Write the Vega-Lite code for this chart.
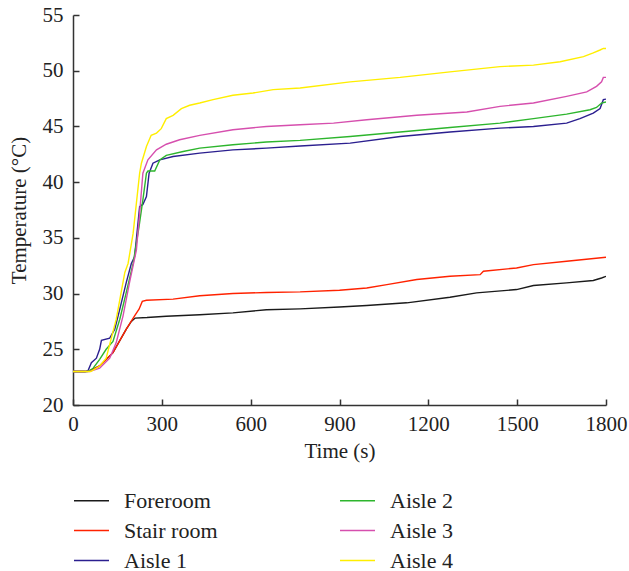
{
  "$schema": "https://vega.github.io/schema/vega-lite/v6.json",
  "width": 533,
  "height": 390,
  "autosize": {"type": "none"},
  "padding": {"left": 73, "top": 15, "right": 23, "bottom": 166},
  "background": "white",
  "config": {
    "view": {"stroke": null},
    "font": "Liberation Serif, DejaVu Serif, serif"
  },
  "data": {
    "values": [
      {"t":0,"T":23.0,"s":"Foreroom"},{"t":40,"T":23.0,"s":"Foreroom"},{"t":60,"T":23.1,"s":"Foreroom"},{"t":90,"T":23.5,"s":"Foreroom"},{"t":135,"T":24.7,"s":"Foreroom"},{"t":180,"T":26.8,"s":"Foreroom"},{"t":197,"T":27.5,"s":"Foreroom"},{"t":210,"T":27.8,"s":"Foreroom"},{"t":250,"T":27.85,"s":"Foreroom"},{"t":315,"T":27.97,"s":"Foreroom"},{"t":428,"T":28.1,"s":"Foreroom"},{"t":540,"T":28.27,"s":"Foreroom"},{"t":653,"T":28.55,"s":"Foreroom"},{"t":767,"T":28.63,"s":"Foreroom"},{"t":900,"T":28.8,"s":"Foreroom"},{"t":992,"T":28.93,"s":"Foreroom"},{"t":1127,"T":29.17,"s":"Foreroom"},{"t":1273,"T":29.67,"s":"Foreroom"},{"t":1363,"T":30.06,"s":"Foreroom"},{"t":1498,"T":30.36,"s":"Foreroom"},{"t":1555,"T":30.72,"s":"Foreroom"},{"t":1667,"T":30.96,"s":"Foreroom"},{"t":1757,"T":31.17,"s":"Foreroom"},{"t":1785,"T":31.4,"s":"Foreroom"},{"t":1800,"T":31.55,"s":"Foreroom"},

      {"t":0,"T":23.0,"s":"Stair room"},{"t":40,"T":23.0,"s":"Stair room"},{"t":60,"T":23.1,"s":"Stair room"},{"t":90,"T":23.5,"s":"Stair room"},{"t":135,"T":24.7,"s":"Stair room"},{"t":180,"T":26.8,"s":"Stair room"},{"t":208,"T":28.0,"s":"Stair room"},{"t":223,"T":28.6,"s":"Stair room"},{"t":234,"T":29.3,"s":"Stair room"},{"t":248,"T":29.4,"s":"Stair room"},{"t":338,"T":29.5,"s":"Stair room"},{"t":428,"T":29.8,"s":"Stair room"},{"t":540,"T":30.0,"s":"Stair room"},{"t":653,"T":30.1,"s":"Stair room"},{"t":767,"T":30.15,"s":"Stair room"},{"t":900,"T":30.3,"s":"Stair room"},{"t":992,"T":30.5,"s":"Stair room"},{"t":1060,"T":30.8,"s":"Stair room"},{"t":1161,"T":31.26,"s":"Stair room"},{"t":1273,"T":31.56,"s":"Stair room"},{"t":1375,"T":31.7,"s":"Stair room"},{"t":1386,"T":32.0,"s":"Stair room"},{"t":1498,"T":32.3,"s":"Stair room"},{"t":1555,"T":32.6,"s":"Stair room"},{"t":1667,"T":32.9,"s":"Stair room"},{"t":1800,"T":33.26,"s":"Stair room"},

      {"t":0,"T":23.0,"s":"Aisle 1"},{"t":45,"T":23.0,"s":"Aisle 1"},{"t":51,"T":23.1,"s":"Aisle 1"},{"t":62,"T":23.8,"s":"Aisle 1"},{"t":79,"T":24.2,"s":"Aisle 1"},{"t":90,"T":25.0,"s":"Aisle 1"},{"t":96,"T":25.8,"s":"Aisle 1"},{"t":124,"T":26.0,"s":"Aisle 1"},{"t":141,"T":26.8,"s":"Aisle 1"},{"t":158,"T":28.6,"s":"Aisle 1"},{"t":180,"T":31.0,"s":"Aisle 1"},{"t":197,"T":32.7,"s":"Aisle 1"},{"t":208,"T":33.3,"s":"Aisle 1"},{"t":225,"T":37.8,"s":"Aisle 1"},{"t":236,"T":38.0,"s":"Aisle 1"},{"t":248,"T":38.7,"s":"Aisle 1"},{"t":257,"T":40.8,"s":"Aisle 1"},{"t":270,"T":41.7,"s":"Aisle 1"},{"t":293,"T":42.0,"s":"Aisle 1"},{"t":338,"T":42.3,"s":"Aisle 1"},{"t":428,"T":42.6,"s":"Aisle 1"},{"t":540,"T":42.9,"s":"Aisle 1"},{"t":653,"T":43.05,"s":"Aisle 1"},{"t":767,"T":43.25,"s":"Aisle 1"},{"t":936,"T":43.5,"s":"Aisle 1"},{"t":1105,"T":44.1,"s":"Aisle 1"},{"t":1273,"T":44.5,"s":"Aisle 1"},{"t":1442,"T":44.85,"s":"Aisle 1"},{"t":1555,"T":45.0,"s":"Aisle 1"},{"t":1667,"T":45.3,"s":"Aisle 1"},{"t":1712,"T":45.7,"s":"Aisle 1"},{"t":1757,"T":46.2,"s":"Aisle 1"},{"t":1780,"T":46.6,"s":"Aisle 1"},{"t":1791,"T":47.4,"s":"Aisle 1"},{"t":1800,"T":47.45,"s":"Aisle 1"},

      {"t":0,"T":23.0,"s":"Aisle 2"},{"t":50,"T":23.0,"s":"Aisle 2"},{"t":68,"T":23.3,"s":"Aisle 2"},{"t":90,"T":24.1,"s":"Aisle 2"},{"t":112,"T":25.0,"s":"Aisle 2"},{"t":135,"T":25.7,"s":"Aisle 2"},{"t":158,"T":27.7,"s":"Aisle 2"},{"t":180,"T":30.1,"s":"Aisle 2"},{"t":203,"T":32.7,"s":"Aisle 2"},{"t":223,"T":36.0,"s":"Aisle 2"},{"t":236,"T":38.4,"s":"Aisle 2"},{"t":248,"T":40.8,"s":"Aisle 2"},{"t":253,"T":41.0,"s":"Aisle 2"},{"t":276,"T":41.0,"s":"Aisle 2"},{"t":293,"T":42.0,"s":"Aisle 2"},{"t":315,"T":42.4,"s":"Aisle 2"},{"t":372,"T":42.75,"s":"Aisle 2"},{"t":428,"T":43.05,"s":"Aisle 2"},{"t":540,"T":43.35,"s":"Aisle 2"},{"t":653,"T":43.6,"s":"Aisle 2"},{"t":767,"T":43.75,"s":"Aisle 2"},{"t":936,"T":44.1,"s":"Aisle 2"},{"t":1105,"T":44.5,"s":"Aisle 2"},{"t":1273,"T":44.9,"s":"Aisle 2"},{"t":1442,"T":45.3,"s":"Aisle 2"},{"t":1555,"T":45.7,"s":"Aisle 2"},{"t":1667,"T":46.1,"s":"Aisle 2"},{"t":1746,"T":46.5,"s":"Aisle 2"},{"t":1768,"T":46.7,"s":"Aisle 2"},{"t":1785,"T":47.1,"s":"Aisle 2"},{"t":1800,"T":47.2,"s":"Aisle 2"},

      {"t":0,"T":23.0,"s":"Aisle 3"},{"t":55,"T":23.0,"s":"Aisle 3"},{"t":90,"T":23.3,"s":"Aisle 3"},{"t":124,"T":24.2,"s":"Aisle 3"},{"t":146,"T":25.6,"s":"Aisle 3"},{"t":169,"T":28.0,"s":"Aisle 3"},{"t":191,"T":31.0,"s":"Aisle 3"},{"t":214,"T":33.9,"s":"Aisle 3"},{"t":225,"T":37.2,"s":"Aisle 3"},{"t":236,"T":40.8,"s":"Aisle 3"},{"t":253,"T":42.0,"s":"Aisle 3"},{"t":282,"T":42.9,"s":"Aisle 3"},{"t":315,"T":43.4,"s":"Aisle 3"},{"t":360,"T":43.8,"s":"Aisle 3"},{"t":428,"T":44.2,"s":"Aisle 3"},{"t":540,"T":44.7,"s":"Aisle 3"},{"t":653,"T":45.0,"s":"Aisle 3"},{"t":767,"T":45.15,"s":"Aisle 3"},{"t":880,"T":45.3,"s":"Aisle 3"},{"t":992,"T":45.6,"s":"Aisle 3"},{"t":1161,"T":46.0,"s":"Aisle 3"},{"t":1330,"T":46.3,"s":"Aisle 3"},{"t":1442,"T":46.8,"s":"Aisle 3"},{"t":1555,"T":47.1,"s":"Aisle 3"},{"t":1667,"T":47.7,"s":"Aisle 3"},{"t":1735,"T":48.1,"s":"Aisle 3"},{"t":1768,"T":48.6,"s":"Aisle 3"},{"t":1785,"T":49.0,"s":"Aisle 3"},{"t":1791,"T":49.4,"s":"Aisle 3"},{"t":1800,"T":49.4,"s":"Aisle 3"},

      {"t":0,"T":23.0,"s":"Aisle 4"},{"t":60,"T":23.0,"s":"Aisle 4"},{"t":90,"T":23.5,"s":"Aisle 4"},{"t":112,"T":24.2,"s":"Aisle 4"},{"t":146,"T":27.7,"s":"Aisle 4"},{"t":175,"T":31.9,"s":"Aisle 4"},{"t":186,"T":32.7,"s":"Aisle 4"},{"t":203,"T":35.4,"s":"Aisle 4"},{"t":214,"T":38.1,"s":"Aisle 4"},{"t":225,"T":40.8,"s":"Aisle 4"},{"t":231,"T":41.7,"s":"Aisle 4"},{"t":248,"T":43.2,"s":"Aisle 4"},{"t":264,"T":44.2,"s":"Aisle 4"},{"t":282,"T":44.4,"s":"Aisle 4"},{"t":298,"T":44.8,"s":"Aisle 4"},{"t":315,"T":45.7,"s":"Aisle 4"},{"t":338,"T":46.0,"s":"Aisle 4"},{"t":366,"T":46.6,"s":"Aisle 4"},{"t":394,"T":46.9,"s":"Aisle 4"},{"t":428,"T":47.1,"s":"Aisle 4"},{"t":473,"T":47.4,"s":"Aisle 4"},{"t":540,"T":47.8,"s":"Aisle 4"},{"t":608,"T":48.0,"s":"Aisle 4"},{"t":676,"T":48.3,"s":"Aisle 4"},{"t":767,"T":48.45,"s":"Aisle 4"},{"t":936,"T":49.0,"s":"Aisle 4"},{"t":1105,"T":49.4,"s":"Aisle 4"},{"t":1273,"T":49.9,"s":"Aisle 4"},{"t":1442,"T":50.37,"s":"Aisle 4"},{"t":1555,"T":50.5,"s":"Aisle 4"},{"t":1645,"T":50.8,"s":"Aisle 4"},{"t":1724,"T":51.26,"s":"Aisle 4"},{"t":1757,"T":51.6,"s":"Aisle 4"},{"t":1780,"T":51.86,"s":"Aisle 4"},{"t":1791,"T":52.0,"s":"Aisle 4"},{"t":1800,"T":52.0,"s":"Aisle 4"}
    ]
  },
  "mark": {"type": "line", "strokeWidth": 1.4, "clip": true},
  "encoding": {
    "x": {
      "field": "t", "type": "quantitative",
      "scale": {"domain": [0, 1800], "nice": false, "zero": false},
      "axis": {
        "title": "Time (s)", "values": [0, 300, 600, 900, 1200, 1500, 1800], "format": "d",
        "grid": false, "domainColor": "#333", "domainWidth": 1.5,
        "tickColor": "#333", "tickWidth": 1.5, "tickSize": -6,
        "labelFont": "Liberation Serif", "labelFontSize": 21, "labelColor": "#222",
        "labelPadding": 14, "labelFlush": false,
        "titleFont": "Liberation Serif", "titleFontSize": 21, "titleFontWeight": "normal", "titleColor": "#222",
        "titlePadding": 6
      }
    },
    "y": {
      "field": "T", "type": "quantitative",
      "scale": {"domain": [20, 55], "nice": false, "zero": false},
      "axis": {
        "title": "Temperature (°C)", "values": [20, 25, 30, 35, 40, 45, 50, 55], "format": "d",
        "grid": false, "domainColor": "#333", "domainWidth": 1.5,
        "tickColor": "#333", "tickWidth": 1.5, "tickSize": -6,
        "labelFont": "Liberation Serif", "labelFontSize": 21, "labelColor": "#222",
        "labelPadding": 16, "labelFlush": false,
        "titleFont": "Liberation Serif", "titleFontSize": 21, "titleFontWeight": "normal", "titleColor": "#222",
        "titlePadding": 13
      }
    },
    "color": {
      "field": "s", "type": "nominal",
      "scale": {
        "domain": ["Foreroom", "Stair room", "Aisle 1", "Aisle 2", "Aisle 3", "Aisle 4"],
        "range": ["#1a1a1a", "#ff2200", "#2b1f8f", "#2db52d", "#d64fae", "#ffee00"]
      },
      "legend": {
        "title": null, "orient": "none", "legendX": 0, "legendY": 467,
        "columns": 2, "columnPadding": 118, "rowPadding": -5,
        "symbolType": "stroke", "symbolSize": 1225, "symbolStrokeWidth": 1.6,
        "labelFont": "Liberation Serif", "labelFontSize": 22, "labelColor": "#222",
        "labelOffset": 14, "labelLimit": 300
      }
    }
  }
}
